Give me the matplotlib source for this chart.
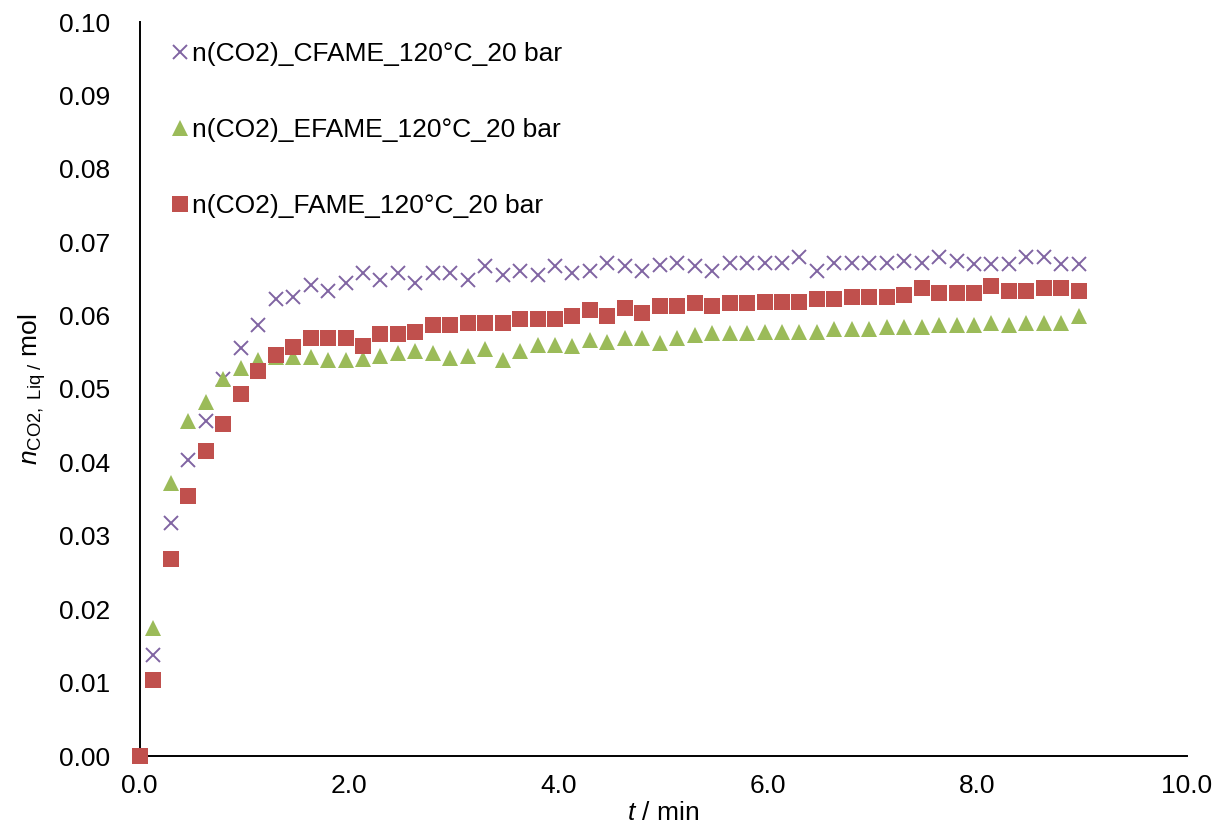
import numpy as np
import matplotlib
matplotlib.use("Agg")
import matplotlib.pyplot as plt

plt.rcParams['font.family'] = ['Liberation Sans', 'DejaVu Sans']
plt.rcParams['mathtext.fontset'] = 'custom'
plt.rcParams['mathtext.rm'] = 'Liberation Sans'
plt.rcParams['mathtext.it'] = 'Liberation Sans:italic'

# time in minutes: 0, then every 10 s starting at 8 s
t_seconds = [0] + [8 + 10 * k for k in range(54)]
t_min = [s / 60 for s in t_seconds]

n_cfame = [0.0, 0.0137, 0.0318, 0.0403, 0.0457, 0.0514, 0.0556, 0.0587, 0.0622, 0.0626,
           0.0642, 0.0633, 0.0645, 0.0658, 0.0648, 0.0658, 0.0645, 0.0658, 0.0658, 0.0648,
           0.0668, 0.0655, 0.0661, 0.0655, 0.0668, 0.0658, 0.0661, 0.0671, 0.0668, 0.0661,
           0.0669, 0.0671, 0.0668, 0.0661, 0.0671, 0.0671, 0.0671, 0.0671, 0.0680, 0.0661,
           0.0671, 0.0671, 0.0671, 0.0671, 0.0674, 0.0671, 0.0680, 0.0674, 0.0670, 0.0670,
           0.0670, 0.0680, 0.0680, 0.0670, 0.0670]

n_efame = [0.0, 0.0174, 0.0372, 0.0457, 0.0482, 0.0513, 0.0529, 0.0540, 0.0543, 0.0544,
           0.0544, 0.0539, 0.0539, 0.0541, 0.0545, 0.0549, 0.0552, 0.0549, 0.0542, 0.0545,
           0.0555, 0.0539, 0.0552, 0.0560, 0.0560, 0.0558, 0.0567, 0.0564, 0.0570, 0.0570,
           0.0563, 0.0570, 0.0573, 0.0576, 0.0576, 0.0576, 0.0578, 0.0578, 0.0578, 0.0578,
           0.0582, 0.0582, 0.0582, 0.0584, 0.0584, 0.0584, 0.0587, 0.0587, 0.0587, 0.0590,
           0.0587, 0.0590, 0.0590, 0.0590, 0.0599]

n_fame = [0.0, 0.0103, 0.0269, 0.0354, 0.0415, 0.0452, 0.0493, 0.0524, 0.0546, 0.0557,
          0.0569, 0.0569, 0.0569, 0.0558, 0.0575, 0.0575, 0.0578, 0.0587, 0.0587, 0.0590,
          0.0590, 0.0590, 0.0596, 0.0596, 0.0596, 0.0599, 0.0608, 0.0599, 0.0611, 0.0604,
          0.0613, 0.0613, 0.0617, 0.0613, 0.0617, 0.0617, 0.0619, 0.0619, 0.0619, 0.0623,
          0.0623, 0.0626, 0.0626, 0.0626, 0.0628, 0.0637, 0.0631, 0.0631, 0.0631, 0.0640,
          0.0634, 0.0634, 0.0637, 0.0637, 0.0634]

labels = ["n(CO2)_CFAME_120°C_20 bar", "n(CO2)_EFAME_120°C_20 bar", "n(CO2)_FAME_120°C_20 bar"]
x_ticks = [0, 2, 4, 6, 8, 10]
y_ticks = [0.00, 0.01, 0.02, 0.03, 0.04, 0.05, 0.06, 0.07, 0.08, 0.09, 0.10]

fig = plt.figure(figsize=(12.12, 8.26), dpi=100)
ax = fig.add_axes([139.5 / 1212, 70 / 826, (1187 - 139.5) / 1212, (756 - 22) / 826])

ax.plot(t_min, n_cfame, linestyle='none', marker='x', markersize=10.5, markeredgewidth=1.4,
        color='#8064A2', label=labels[0], clip_on=False, zorder=3)
ax.plot(t_min, n_efame, linestyle='none', marker='^', markersize=11.2, markeredgewidth=0,
        color='#9BBB59', label=labels[1], clip_on=False, zorder=4)
ax.plot(t_min, n_fame, linestyle='none', marker='s', markersize=11.2, markeredgewidth=0,
        color='#C0504D', label=labels[2], clip_on=False, zorder=5)

ax.set_xlim(0, 10)
ax.set_ylim(0, 0.10)
ax.set_xticks(x_ticks)
ax.set_yticks(y_ticks)
ax.set_xticklabels([f"{v:.1f}" for v in x_ticks])
ax.set_yticklabels([f"{v:.2f}" for v in y_ticks])
ax.tick_params(axis='both', length=0, labelsize=19)
ax.tick_params(axis='y', pad=21)
ax.tick_params(axis='x', pad=13)

for s in ['top', 'right']:
    ax.spines[s].set_visible(False)
for s in ['left', 'bottom']:
    ax.spines[s].set_linewidth(1.4)
    ax.spines[s].set_color('#000000')

ax.set_xlabel(r'$t$ / min', fontsize=19, labelpad=2)
ax.set_ylabel(r'$n_{\mathrm{CO2,\ Liq\ /}}$ mol', fontsize=19, labelpad=8)

ax.legend(loc='upper left', bbox_to_anchor=(0.032, 0.973), frameon=False,
          fontsize=19, handlelength=0.55, handletextpad=0.18, labelspacing=1.97,
          borderpad=0, borderaxespad=0, markerscale=1.0)

fig.savefig('out.png', dpi=100)
